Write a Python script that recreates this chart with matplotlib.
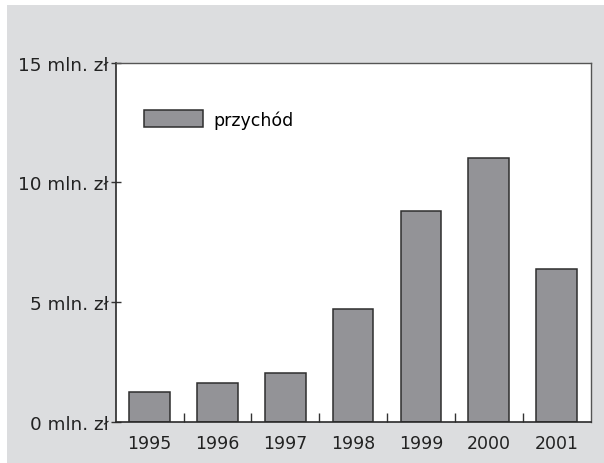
import matplotlib.pyplot as plt
import matplotlib.patches as mpatches
from matplotlib.ticker import FixedLocator

years = ["1995", "1996", "1997", "1998", "1999", "2000", "2001"]
revenue = [1.23, 1.62, 2.04, 4.70, 8.80, 11.03, 6.39]   # mln zł
yticks = [0, 5, 10, 15]
ytick_labels = ["0 mln. zł", "5 mln. zł", "10 mln. zł", "15 mln. zł"]

plt.rcParams["font.family"] = ["DejaVu Sans"]

fig = plt.figure(figsize=(6.04, 4.64), dpi=100, facecolor="white")
# gray panel behind everything (white strip top/left)
fig.patches.append(mpatches.Rectangle((7 / 604, 0), 1, 1 - 6 / 464, transform=fig.transFigure,
                                      facecolor="#dcdddf", edgecolor="none", zorder=-10))

ax = fig.add_axes([0.1916, 0.0894, 0.9777 - 0.1916, 0.8625 - 0.0894])
ax.set_facecolor("white")

x = range(len(years))
ax.bar(x, revenue, width=0.6, color="#939397", edgecolor="#2e2e2e", linewidth=1.1,
       label="przychód", zorder=2)

ax.set_xlim(-0.5, 6.5)
ax.set_ylim(0, 15)

ax.set_xticks(list(x))
ax.set_xticklabels(years, fontsize=12.5, color="#222222")
ax.xaxis.set_minor_locator(FixedLocator([i + 0.5 for i in range(len(years) - 1)]))
ax.tick_params(axis="x", which="major", length=0, pad=9)
ax.tick_params(axis="x", which="minor", direction="in", length=6.5, width=1, color="#333333")

ax.set_yticks(yticks)
ax.set_yticklabels(ytick_labels, fontsize=13.2, color="#222222")
ax.tick_params(axis="y", direction="inout", length=6.5, width=1, color="#333333", pad=2)

for side in ["left", "bottom"]:
    ax.spines[side].set_color("#2a2a2a")
    ax.spines[side].set_linewidth(1.2)
for side in ["top", "right"]:
    ax.spines[side].set_color("#555555")
    ax.spines[side].set_linewidth(1.0)

ax.legend(loc="upper left", bbox_to_anchor=(0.06, 0.868), frameon=False,
          fontsize=12.5, handlelength=3.4, handleheight=1.15, handletextpad=0.6,
          borderpad=0, borderaxespad=0)

plt.savefig("out.png", dpi=100, facecolor=fig.get_facecolor())
